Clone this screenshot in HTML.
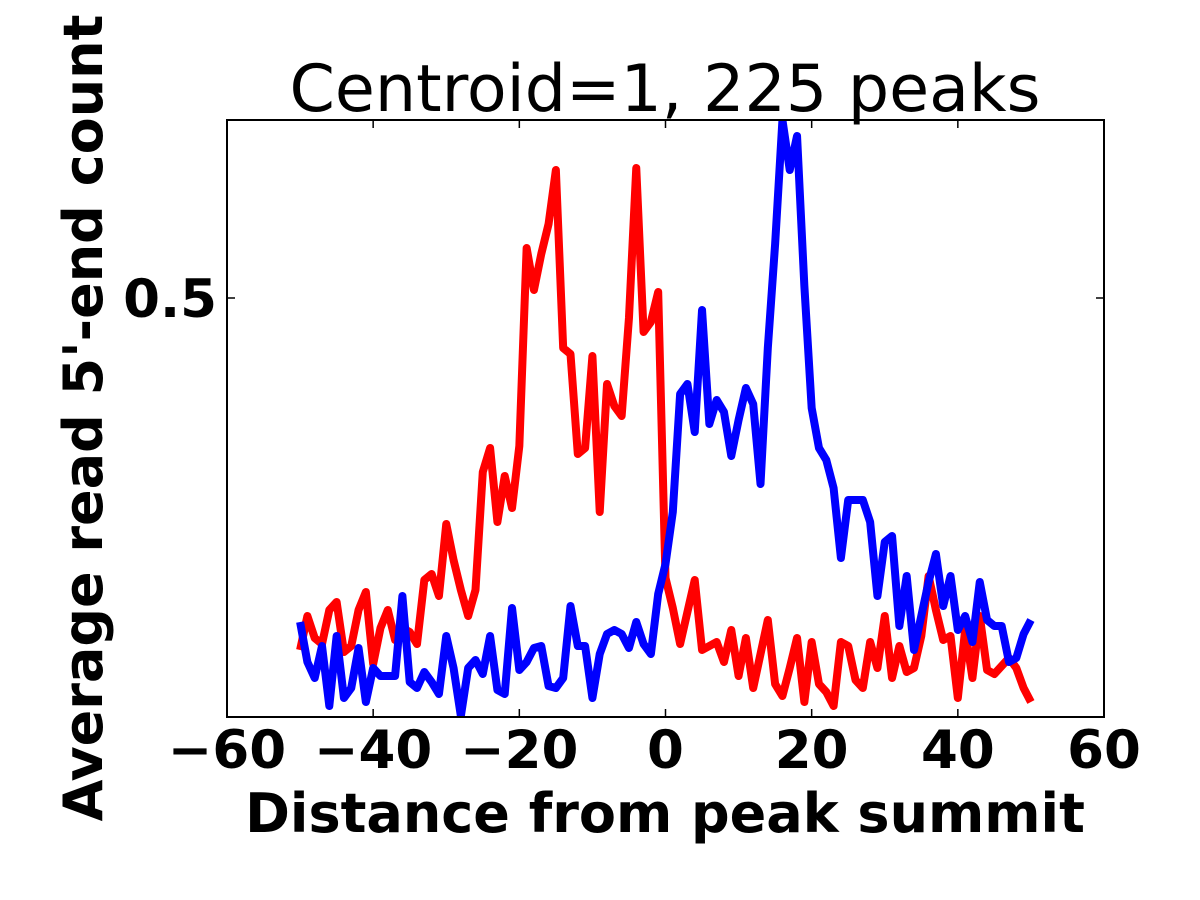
<!DOCTYPE html>
<html><head><meta charset="utf-8"><style>
html,body{margin:0;padding:0;background:#fff;}
svg{display:block;}
text{font-family:"DejaVu Sans","Liberation Sans",sans-serif;}
</style></head><body>
<svg id="chart" width="1200" height="900" xmlns="http://www.w3.org/2000/svg">
<defs><clipPath id="plotclip"><rect x="227" y="120" width="877" height="597"/></clipPath></defs>
<rect x="0" y="0" width="1200" height="900" fill="#fff"/>
<text x="665" y="111" font-size="65" text-anchor="middle">Centroid=1, 225 peaks</text>
<g id="series" clip-path="url(#plotclip)"></g>
<rect x="227" y="120" width="877" height="597" fill="none" stroke="#000" stroke-width="2"/>
<g id="axes"></g>
<text x="665" y="832" font-size="54" font-weight="bold" text-anchor="middle">Distance from peak summit</text>
<text transform="translate(102,418) rotate(-90)" font-size="54" font-weight="bold" text-anchor="middle">Average read 5'-end count</text>
</svg>
<script>
const positions = [];
for (let i = -50; i <= 50; i++) positions.push(i);
const redValues = [0.324,0.341,0.330,0.327,0.344,0.348,0.323,0.326,0.344,0.353,
0.317,0.335,0.344,0.329,0.335,0.333,0.327,0.359,0.362,0.351,
0.387,0.369,0.354,0.341,0.354,0.413,0.425,0.388,0.411,0.395,
0.426,0.525,0.504,0.522,0.537,0.564,0.475,0.472,0.422,0.425,
0.471,0.393,0.457,0.446,0.441,0.490,0.565,0.483,0.488,0.503,
0.360,0.345,0.327,0.343,0.359,0.324,0.326,0.328,0.318,0.334,
0.311,0.330,0.305,0.322,0.339,0.307,0.301,0.315,0.330,0.298,
0.328,0.307,0.303,0.296,0.328,0.326,0.309,0.305,0.328,0.315,
0.341,0.310,0.326,0.313,0.315,0.331,0.361,0.344,0.329,0.331,
0.300,0.334,0.310,0.341,0.314,0.312,0.316,0.320,0.315,0.305,0.298];
const blueValues = [0.338,0.318,0.310,0.326,0.296,0.331,0.300,0.305,0.325,0.298,
0.315,0.311,0.311,0.311,0.351,0.308,0.305,0.313,0.308,0.302,
0.331,0.315,0.291,0.315,0.319,0.312,0.331,0.304,0.302,0.345,
0.314,0.318,0.325,0.326,0.306,0.305,0.310,0.346,0.326,0.326,
0.300,0.322,0.332,0.334,0.332,0.325,0.338,0.327,0.322,0.352,
0.367,0.393,0.452,0.457,0.433,0.494,0.437,0.449,0.443,0.421,
0.439,0.455,0.447,0.407,0.475,0.527,0.589,0.564,0.581,0.506,
0.445,0.425,0.419,0.405,0.370,0.399,0.399,0.399,0.388,0.351,
0.378,0.381,0.336,0.361,0.324,0.341,0.358,0.372,0.346,0.361,
0.334,0.341,0.328,0.358,0.339,0.336,0.336,0.318,0.320,0.332,0.339];
const xTicks = [-60,-40,-20,0,20,40,60];
const xTickLabels = ["\u221260","\u221240","\u221220","0","20","40","60"];
const yTicks = [0.5];
const yTickLabels = ["0.5"];

const X0=227, X1=1104, Y0=120, Y1=717;
const xMin=-60, xMax=60, yMin=0.2905, yMax=0.589;
const sx = v => X0 + (v - xMin) / (xMax - xMin) * (X1 - X0);
const sy = v => Y1 - (v - yMin) / (yMax - yMin) * (Y1 - Y0);
const NS = "http://www.w3.org/2000/svg";
const series = document.getElementById('series');
const axes = document.getElementById('axes');

function drawLine(vals, color, name) {
  const p = document.createElementNS(NS, 'polyline');
  p.setAttribute('points', vals.map((v, i) => sx(positions[i]) + ',' + sy(v)).join(' '));
  p.setAttribute('fill', 'none');
  p.setAttribute('stroke', color);
  p.setAttribute('stroke-width', '8');
  p.setAttribute('stroke-linejoin', 'round');
  
  
  series.appendChild(p);
}
drawLine(redValues, '#ff0000', 'red-series-line');
drawLine(blueValues, '#0000ff', 'blue-series-line');

xTicks.forEach((t, i) => {
  const x = sx(t);
  [[Y1, Y1 - 8], [Y0, Y0 + 8]].forEach(([a, b]) => {
    const l = document.createElementNS(NS, 'line');
    l.setAttribute('x1', x); l.setAttribute('x2', x);
    l.setAttribute('y1', a); l.setAttribute('y2', b);
    l.setAttribute('stroke', '#000'); l.setAttribute('stroke-width', '1.5');
    
    
    axes.appendChild(l);
  });
  const tx = document.createElementNS(NS, 'text');
  tx.setAttribute('x', x); tx.setAttribute('y', 768);
  tx.setAttribute('font-size', '53'); tx.setAttribute('font-weight', 'bold');
  tx.setAttribute('text-anchor', 'middle');
  tx.textContent = xTickLabels[i];
  
  
  axes.appendChild(tx);
});
yTicks.forEach((t, i) => {
  const y = sy(t);
  [[X0, X0 + 8], [X1, X1 - 8]].forEach(([a, b]) => {
    const l = document.createElementNS(NS, 'line');
    l.setAttribute('x1', a); l.setAttribute('x2', b);
    l.setAttribute('y1', y); l.setAttribute('y2', y);
    l.setAttribute('stroke', '#000'); l.setAttribute('stroke-width', '1.5');
    
    
    axes.appendChild(l);
  });
  const tx = document.createElementNS(NS, 'text');
  tx.setAttribute('x', 217); tx.setAttribute('y', y + 19);
  tx.setAttribute('font-size', '53'); tx.setAttribute('font-weight', 'bold');
  tx.setAttribute('text-anchor', 'end');
  tx.textContent = yTickLabels[i];
  
  
  axes.appendChild(tx);
});
</script>
</body></html>
